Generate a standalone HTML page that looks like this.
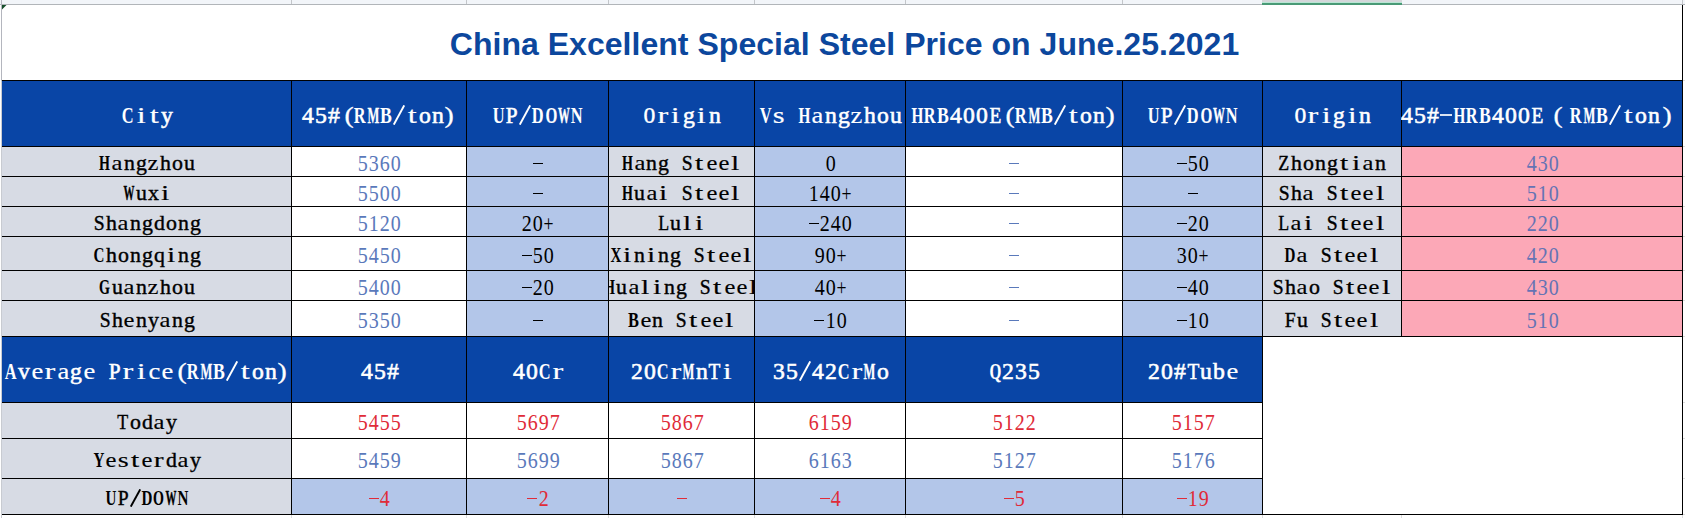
<!DOCTYPE html>
<html><head><meta charset="utf-8"><title>China Excellent Special Steel Price</title>
<style>
html,body{margin:0;padding:0;background:#fff;}
body{width:1685px;height:518px;position:relative;overflow:hidden;font-family:"Liberation Serif",serif;}
.r{position:absolute;}
.t{position:absolute;display:flex;justify-content:center;white-space:nowrap;overflow:hidden;}
.t span{display:block;flex:none;white-space:nowrap;}
.t i{display:inline-block;font-style:normal;text-align:center;}
.t b{display:inline-block;font-weight:normal;}
.t u{display:inline-block;background:currentColor;text-decoration:none;}
.t.h{font-size:24px;-webkit-text-stroke:0.6px currentColor;}
.t.l{font-size:22px;-webkit-text-stroke:0.4px currentColor;}
.t.n{font-size:23px;}
#title{position:absolute;left:4.5px;top:7px;width:1680px;height:75px;line-height:75px;text-align:center;font-family:"Liberation Sans",sans-serif;font-weight:bold;font-size:32px;letter-spacing:0.03px;color:#0c479d;white-space:nowrap;}
</style></head><body>
<div class="r" style="left:0;top:0;width:1685px;height:4px;background:#f2f5f9"></div>
<div class="r" style="left:0;top:4px;width:1685px;height:1px;background:#b1b5b9"></div>
<div class="r" style="left:291px;top:0;width:1px;height:4px;background:#c3c6ca"></div><div class="r" style="left:466px;top:0;width:1px;height:4px;background:#c3c6ca"></div><div class="r" style="left:608px;top:0;width:1px;height:4px;background:#c3c6ca"></div><div class="r" style="left:754px;top:0;width:1px;height:4px;background:#c3c6ca"></div><div class="r" style="left:905px;top:0;width:1px;height:4px;background:#c3c6ca"></div><div class="r" style="left:1122px;top:0;width:1px;height:4px;background:#c3c6ca"></div><div class="r" style="left:1262px;top:0;width:1px;height:4px;background:#c3c6ca"></div><div class="r" style="left:1401px;top:0;width:1px;height:4px;background:#c3c6ca"></div><div class="r" style="left:1682px;top:0;width:1px;height:4px;background:#c3c6ca"></div>
<div class="r" style="left:1262px;top:0;width:140px;height:3px;background:#d4d7da"></div>
<div class="r" style="left:1262px;top:2px;width:140px;height:1px;background:#b9e6d4"></div>
<div class="r" style="left:1262px;top:3px;width:140px;height:2px;background:#4a9a76"></div>
<div class="r" style="left:1px;top:0;width:1px;height:81px;background:#b4b6be"></div>
<div class="r" style="left:1px;top:81px;width:1px;height:437px;background:#c8cbd1"></div>
<div class="r" style="left:291px;top:515px;width:1px;height:3px;background:#dcdcdc"></div><div class="r" style="left:466px;top:515px;width:1px;height:3px;background:#dcdcdc"></div><div class="r" style="left:608px;top:515px;width:1px;height:3px;background:#dcdcdc"></div><div class="r" style="left:754px;top:515px;width:1px;height:3px;background:#dcdcdc"></div><div class="r" style="left:905px;top:515px;width:1px;height:3px;background:#dcdcdc"></div><div class="r" style="left:1122px;top:515px;width:1px;height:3px;background:#dcdcdc"></div><div class="r" style="left:1262px;top:515px;width:1px;height:3px;background:#dcdcdc"></div><div class="r" style="left:1401px;top:515px;width:1px;height:3px;background:#dcdcdc"></div><div class="r" style="left:1682px;top:515px;width:1px;height:3px;background:#dcdcdc"></div><div class="r" style="left:1683px;top:80px;width:2px;height:1px;background:#dcdcdc"></div><div class="r" style="left:1683px;top:146px;width:2px;height:1px;background:#dcdcdc"></div><div class="r" style="left:1683px;top:176px;width:2px;height:1px;background:#dcdcdc"></div><div class="r" style="left:1683px;top:206px;width:2px;height:1px;background:#dcdcdc"></div><div class="r" style="left:1683px;top:236px;width:2px;height:1px;background:#dcdcdc"></div><div class="r" style="left:1683px;top:270px;width:2px;height:1px;background:#dcdcdc"></div><div class="r" style="left:1683px;top:300px;width:2px;height:1px;background:#dcdcdc"></div><div class="r" style="left:1683px;top:336px;width:2px;height:1px;background:#dcdcdc"></div><div class="r" style="left:1683px;top:402px;width:2px;height:1px;background:#dcdcdc"></div><div class="r" style="left:1683px;top:438px;width:2px;height:1px;background:#dcdcdc"></div><div class="r" style="left:1683px;top:478px;width:2px;height:1px;background:#dcdcdc"></div><div class="r" style="left:1683px;top:514px;width:2px;height:1px;background:#dcdcdc"></div>
<svg class="r" style="left:2px;top:5px" width="5" height="5"><path d="M0 0H4.5L0 4.5Z" fill="#174f2b"/></svg>
<div id="title">China Excellent Special Steel Price on June.25.2021</div>
<div class="r" style="left:2px;top:81px;width:1680px;height:65px;background:#0945a6"></div>
<div class="r" style="left:2px;top:147px;width:289px;height:29px;background:#d7dbe4"></div>
<div class="r" style="left:292px;top:147px;width:174px;height:29px;background:#ffffff"></div>
<div class="r" style="left:467px;top:147px;width:141px;height:29px;background:#b3c6e9"></div>
<div class="r" style="left:609px;top:147px;width:145px;height:29px;background:#d7dbe4"></div>
<div class="r" style="left:755px;top:147px;width:150px;height:29px;background:#b3c6e9"></div>
<div class="r" style="left:906px;top:147px;width:216px;height:29px;background:#ffffff"></div>
<div class="r" style="left:1123px;top:147px;width:139px;height:29px;background:#b3c6e9"></div>
<div class="r" style="left:1263px;top:147px;width:138px;height:29px;background:#d7dbe4"></div>
<div class="r" style="left:1402px;top:147px;width:280px;height:29px;background:#fca8b7"></div>
<div class="r" style="left:2px;top:177px;width:289px;height:29px;background:#d7dbe4"></div>
<div class="r" style="left:292px;top:177px;width:174px;height:29px;background:#ffffff"></div>
<div class="r" style="left:467px;top:177px;width:141px;height:29px;background:#b3c6e9"></div>
<div class="r" style="left:609px;top:177px;width:145px;height:29px;background:#d7dbe4"></div>
<div class="r" style="left:755px;top:177px;width:150px;height:29px;background:#b3c6e9"></div>
<div class="r" style="left:906px;top:177px;width:216px;height:29px;background:#ffffff"></div>
<div class="r" style="left:1123px;top:177px;width:139px;height:29px;background:#b3c6e9"></div>
<div class="r" style="left:1263px;top:177px;width:138px;height:29px;background:#d7dbe4"></div>
<div class="r" style="left:1402px;top:177px;width:280px;height:29px;background:#fca8b7"></div>
<div class="r" style="left:2px;top:207px;width:289px;height:29px;background:#d7dbe4"></div>
<div class="r" style="left:292px;top:207px;width:174px;height:29px;background:#ffffff"></div>
<div class="r" style="left:467px;top:207px;width:141px;height:29px;background:#b3c6e9"></div>
<div class="r" style="left:609px;top:207px;width:145px;height:29px;background:#d7dbe4"></div>
<div class="r" style="left:755px;top:207px;width:150px;height:29px;background:#b3c6e9"></div>
<div class="r" style="left:906px;top:207px;width:216px;height:29px;background:#ffffff"></div>
<div class="r" style="left:1123px;top:207px;width:139px;height:29px;background:#b3c6e9"></div>
<div class="r" style="left:1263px;top:207px;width:138px;height:29px;background:#d7dbe4"></div>
<div class="r" style="left:1402px;top:207px;width:280px;height:29px;background:#fca8b7"></div>
<div class="r" style="left:2px;top:237px;width:289px;height:33px;background:#d7dbe4"></div>
<div class="r" style="left:292px;top:237px;width:174px;height:33px;background:#ffffff"></div>
<div class="r" style="left:467px;top:237px;width:141px;height:33px;background:#b3c6e9"></div>
<div class="r" style="left:609px;top:237px;width:145px;height:33px;background:#d7dbe4"></div>
<div class="r" style="left:755px;top:237px;width:150px;height:33px;background:#b3c6e9"></div>
<div class="r" style="left:906px;top:237px;width:216px;height:33px;background:#ffffff"></div>
<div class="r" style="left:1123px;top:237px;width:139px;height:33px;background:#b3c6e9"></div>
<div class="r" style="left:1263px;top:237px;width:138px;height:33px;background:#d7dbe4"></div>
<div class="r" style="left:1402px;top:237px;width:280px;height:33px;background:#fca8b7"></div>
<div class="r" style="left:2px;top:271px;width:289px;height:29px;background:#d7dbe4"></div>
<div class="r" style="left:292px;top:271px;width:174px;height:29px;background:#ffffff"></div>
<div class="r" style="left:467px;top:271px;width:141px;height:29px;background:#b3c6e9"></div>
<div class="r" style="left:609px;top:271px;width:145px;height:29px;background:#d7dbe4"></div>
<div class="r" style="left:755px;top:271px;width:150px;height:29px;background:#b3c6e9"></div>
<div class="r" style="left:906px;top:271px;width:216px;height:29px;background:#ffffff"></div>
<div class="r" style="left:1123px;top:271px;width:139px;height:29px;background:#b3c6e9"></div>
<div class="r" style="left:1263px;top:271px;width:138px;height:29px;background:#d7dbe4"></div>
<div class="r" style="left:1402px;top:271px;width:280px;height:29px;background:#fca8b7"></div>
<div class="r" style="left:2px;top:301px;width:289px;height:35px;background:#d7dbe4"></div>
<div class="r" style="left:292px;top:301px;width:174px;height:35px;background:#ffffff"></div>
<div class="r" style="left:467px;top:301px;width:141px;height:35px;background:#b3c6e9"></div>
<div class="r" style="left:609px;top:301px;width:145px;height:35px;background:#d7dbe4"></div>
<div class="r" style="left:755px;top:301px;width:150px;height:35px;background:#b3c6e9"></div>
<div class="r" style="left:906px;top:301px;width:216px;height:35px;background:#ffffff"></div>
<div class="r" style="left:1123px;top:301px;width:139px;height:35px;background:#b3c6e9"></div>
<div class="r" style="left:1263px;top:301px;width:138px;height:35px;background:#d7dbe4"></div>
<div class="r" style="left:1402px;top:301px;width:280px;height:35px;background:#fca8b7"></div>
<div class="r" style="left:2px;top:337px;width:1260px;height:65px;background:#0945a6"></div>
<div class="r" style="left:2px;top:403px;width:289px;height:35px;background:#d7dbe4"></div>
<div class="r" style="left:2px;top:439px;width:289px;height:39px;background:#d7dbe4"></div>
<div class="r" style="left:2px;top:479px;width:289px;height:35px;background:#d7dbe4"></div>
<div class="r" style="left:292px;top:479px;width:970px;height:35px;background:#b3c6e9"></div>
<div class="r" style="left:2px;top:80px;width:1681px;height:1px;background:#000000"></div>
<div class="r" style="left:2px;top:146px;width:1681px;height:1px;background:#000000"></div>
<div class="r" style="left:2px;top:176px;width:1681px;height:1px;background:#000000"></div>
<div class="r" style="left:2px;top:206px;width:1681px;height:1px;background:#000000"></div>
<div class="r" style="left:2px;top:236px;width:1681px;height:1px;background:#000000"></div>
<div class="r" style="left:2px;top:270px;width:1681px;height:1px;background:#000000"></div>
<div class="r" style="left:2px;top:300px;width:1681px;height:1px;background:#000000"></div>
<div class="r" style="left:2px;top:336px;width:1681px;height:1px;background:#000000"></div>
<div class="r" style="left:2px;top:402px;width:1261px;height:1px;background:#000000"></div>
<div class="r" style="left:2px;top:438px;width:1261px;height:1px;background:#000000"></div>
<div class="r" style="left:2px;top:478px;width:1261px;height:1px;background:#000000"></div>
<div class="r" style="left:2px;top:514px;width:1681px;height:1px;background:#000000"></div>
<div class="r" style="left:291px;top:80px;width:1px;height:435px;background:#000000"></div>
<div class="r" style="left:466px;top:80px;width:1px;height:435px;background:#000000"></div>
<div class="r" style="left:608px;top:80px;width:1px;height:435px;background:#000000"></div>
<div class="r" style="left:754px;top:80px;width:1px;height:435px;background:#000000"></div>
<div class="r" style="left:905px;top:80px;width:1px;height:435px;background:#000000"></div>
<div class="r" style="left:1122px;top:80px;width:1px;height:435px;background:#000000"></div>
<div class="r" style="left:1262px;top:80px;width:1px;height:435px;background:#000000"></div>
<div class="r" style="left:1401px;top:80px;width:1px;height:257px;background:#000000"></div>
<div class="r" style="left:1682px;top:5px;width:1px;height:510px;background:#000000"></div>
<div class="t h" style="left:3px;top:82.4px;width:289px;height:66px;line-height:66px;color:#fff;"><span><i style="width:13px"><b style="font-weight:bold;-webkit-text-stroke:0.03px currentColor;margin:0 -2.17px 0 -2.17px;transform:scaleX(0.683)">C</b></i><i style="width:13px"><b style="-webkit-text-stroke:0.15px currentColor;margin:0 3.17px 0 3.17px;transform:scaleX(1.350)">i</b></i><i style="width:13px"><b style="-webkit-text-stroke:0.15px currentColor;margin:0 3.17px 0 3.17px;transform:scaleX(1.350)">t</b></i><i style="width:13px"><b style="margin:0 0.50px 0 0.50px;transform:scaleX(0.986)">y</b></i></span></div>
<div class="t h" style="left:292px;top:82.4px;width:175px;height:66px;line-height:66px;color:#fff;"><span><i style="width:13px"><b style="margin:0 0.50px 0 0.50px;transform:scaleX(0.986)">4</b></i><i style="width:13px"><b style="margin:0 0.50px 0 0.50px;transform:scaleX(0.986)">5</b></i><i style="width:13px"><b style="margin:0 0.50px 0 0.50px;transform:scaleX(0.986)">#</b></i><i style="width:13px"><b style="-webkit-text-stroke:0.3px currentColor;margin:0 0.60px 0 4.41px;transform:scaleX(1.150)">(</b></i><i style="width:13px"><b style="font-weight:bold;-webkit-text-stroke:0.03px currentColor;margin:0 -2.17px 0 -2.17px;transform:scaleX(0.683)">R</b></i><i style="width:13px"><b style="font-weight:bold;-webkit-text-stroke:0.36px currentColor;margin:0 -4.83px 0 -4.83px;transform:scaleX(0.522)">M</b></i><i style="width:13px"><b style="font-weight:bold;-webkit-text-stroke:0.00px currentColor;margin:0 -1.50px 0 -1.50px;transform:scaleX(0.739)">B</b></i><i style="width:13px"><svg width="12" height="20" viewBox="0 0 12 20" style="vertical-align:-1.9px"><path d="M0.8 19.6L11.2 0.4" stroke="currentColor" stroke-width="1.9" fill="none"/></svg></i><i style="width:13px"><b style="-webkit-text-stroke:0.15px currentColor;margin:0 3.17px 0 3.17px;transform:scaleX(1.350)">t</b></i><i style="width:13px"><b style="margin:0 0.50px 0 0.50px;transform:scaleX(0.986)">o</b></i><i style="width:13px"><b style="margin:0 0.50px 0 0.50px;transform:scaleX(0.986)">n</b></i><i style="width:13px"><b style="-webkit-text-stroke:0.3px currentColor;margin:0 4.41px 0 0.60px;transform:scaleX(1.150)">)</b></i></span></div>
<div class="t h" style="left:467px;top:82.4px;width:142px;height:66px;line-height:66px;color:#fff;"><span><i style="width:13px"><b style="font-weight:bold;-webkit-text-stroke:0.03px currentColor;margin:0 -2.17px 0 -2.17px;transform:scaleX(0.683)">U</b></i><i style="width:13px"><b style="margin:0 -0.17px 0 -0.17px;transform:scaleX(0.886)">P</b></i><i style="width:13px"><svg width="12" height="20" viewBox="0 0 12 20" style="vertical-align:-1.9px"><path d="M0.8 19.6L11.2 0.4" stroke="currentColor" stroke-width="1.9" fill="none"/></svg></i><i style="width:13px"><b style="font-weight:bold;-webkit-text-stroke:0.03px currentColor;margin:0 -2.17px 0 -2.17px;transform:scaleX(0.683)">D</b></i><i style="width:13px"><b style="font-weight:bold;-webkit-text-stroke:0.13px currentColor;margin:0 -2.83px 0 -2.83px;transform:scaleX(0.634)">O</b></i><i style="width:13px"><b style="font-weight:bold;-webkit-text-stroke:0.41px currentColor;margin:0 -5.50px 0 -5.50px;transform:scaleX(0.493)">W</b></i><i style="width:13px"><b style="font-weight:bold;-webkit-text-stroke:0.03px currentColor;margin:0 -2.17px 0 -2.17px;transform:scaleX(0.683)">N</b></i></span></div>
<div class="t h" style="left:609px;top:82.4px;width:146px;height:66px;line-height:66px;color:#fff;"><span><i style="width:13px"><b style="font-weight:bold;-webkit-text-stroke:0.13px currentColor;margin:0 -2.83px 0 -2.83px;transform:scaleX(0.634)">O</b></i><i style="width:13px"><b style="-webkit-text-stroke:0.15px currentColor;margin:0 2.50px 0 2.50px;transform:scaleX(1.350)">r</b></i><i style="width:13px"><b style="-webkit-text-stroke:0.15px currentColor;margin:0 3.17px 0 3.17px;transform:scaleX(1.350)">i</b></i><i style="width:13px"><b style="margin:0 0.50px 0 0.50px;transform:scaleX(0.986)">g</b></i><i style="width:13px"><b style="-webkit-text-stroke:0.15px currentColor;margin:0 3.17px 0 3.17px;transform:scaleX(1.350)">i</b></i><i style="width:13px"><b style="margin:0 0.50px 0 0.50px;transform:scaleX(0.986)">n</b></i></span></div>
<div class="t h" style="left:755px;top:82.4px;width:151px;height:66px;line-height:66px;color:#fff;"><span><i style="width:13px"><b style="font-weight:bold;-webkit-text-stroke:0.03px currentColor;margin:0 -2.17px 0 -2.17px;transform:scaleX(0.683)">V</b></i><i style="width:13px"><b style="-webkit-text-stroke:0.15px currentColor;margin:0 1.83px 0 1.83px;transform:scaleX(1.267)">s</b></i><i style="width:13px"></i><i style="width:13px"><b style="font-weight:bold;-webkit-text-stroke:0.13px currentColor;margin:0 -2.83px 0 -2.83px;transform:scaleX(0.634)">H</b></i><i style="width:13px"><b style="-webkit-text-stroke:0.15px currentColor;margin:0 1.17px 0 1.17px;transform:scaleX(1.111)">a</b></i><i style="width:13px"><b style="margin:0 0.50px 0 0.50px;transform:scaleX(0.986)">n</b></i><i style="width:13px"><b style="margin:0 0.50px 0 0.50px;transform:scaleX(0.986)">g</b></i><i style="width:13px"><b style="-webkit-text-stroke:0.15px currentColor;margin:0 1.17px 0 1.17px;transform:scaleX(1.111)">z</b></i><i style="width:13px"><b style="margin:0 0.50px 0 0.50px;transform:scaleX(0.986)">h</b></i><i style="width:13px"><b style="margin:0 0.50px 0 0.50px;transform:scaleX(0.986)">o</b></i><i style="width:13px"><b style="margin:0 0.50px 0 0.50px;transform:scaleX(0.986)">u</b></i></span></div>
<div class="t h" style="left:906px;top:82.4px;width:217px;height:66px;line-height:66px;color:#fff;"><span><i style="width:13px"><b style="font-weight:bold;-webkit-text-stroke:0.13px currentColor;margin:0 -2.83px 0 -2.83px;transform:scaleX(0.634)">H</b></i><i style="width:13px"><b style="font-weight:bold;-webkit-text-stroke:0.03px currentColor;margin:0 -2.17px 0 -2.17px;transform:scaleX(0.683)">R</b></i><i style="width:13px"><b style="font-weight:bold;-webkit-text-stroke:0.00px currentColor;margin:0 -1.50px 0 -1.50px;transform:scaleX(0.739)">B</b></i><i style="width:13px"><b style="margin:0 0.50px 0 0.50px;transform:scaleX(0.986)">4</b></i><i style="width:13px"><b style="margin:0 0.50px 0 0.50px;transform:scaleX(0.986)">0</b></i><i style="width:13px"><b style="margin:0 0.50px 0 0.50px;transform:scaleX(0.986)">0</b></i><i style="width:13px"><b style="margin:0 -0.83px 0 -0.83px;transform:scaleX(0.807)">E</b></i><i style="width:13px"><b style="-webkit-text-stroke:0.3px currentColor;margin:0 0.60px 0 4.41px;transform:scaleX(1.150)">(</b></i><i style="width:13px"><b style="font-weight:bold;-webkit-text-stroke:0.03px currentColor;margin:0 -2.17px 0 -2.17px;transform:scaleX(0.683)">R</b></i><i style="width:13px"><b style="font-weight:bold;-webkit-text-stroke:0.36px currentColor;margin:0 -4.83px 0 -4.83px;transform:scaleX(0.522)">M</b></i><i style="width:13px"><b style="font-weight:bold;-webkit-text-stroke:0.00px currentColor;margin:0 -1.50px 0 -1.50px;transform:scaleX(0.739)">B</b></i><i style="width:13px"><svg width="12" height="20" viewBox="0 0 12 20" style="vertical-align:-1.9px"><path d="M0.8 19.6L11.2 0.4" stroke="currentColor" stroke-width="1.9" fill="none"/></svg></i><i style="width:13px"><b style="-webkit-text-stroke:0.15px currentColor;margin:0 3.17px 0 3.17px;transform:scaleX(1.350)">t</b></i><i style="width:13px"><b style="margin:0 0.50px 0 0.50px;transform:scaleX(0.986)">o</b></i><i style="width:13px"><b style="margin:0 0.50px 0 0.50px;transform:scaleX(0.986)">n</b></i><i style="width:13px"><b style="-webkit-text-stroke:0.3px currentColor;margin:0 4.41px 0 0.60px;transform:scaleX(1.150)">)</b></i></span></div>
<div class="t h" style="left:1123px;top:82.4px;width:140px;height:66px;line-height:66px;color:#fff;"><span><i style="width:13px"><b style="font-weight:bold;-webkit-text-stroke:0.03px currentColor;margin:0 -2.17px 0 -2.17px;transform:scaleX(0.683)">U</b></i><i style="width:13px"><b style="margin:0 -0.17px 0 -0.17px;transform:scaleX(0.886)">P</b></i><i style="width:13px"><svg width="12" height="20" viewBox="0 0 12 20" style="vertical-align:-1.9px"><path d="M0.8 19.6L11.2 0.4" stroke="currentColor" stroke-width="1.9" fill="none"/></svg></i><i style="width:13px"><b style="font-weight:bold;-webkit-text-stroke:0.03px currentColor;margin:0 -2.17px 0 -2.17px;transform:scaleX(0.683)">D</b></i><i style="width:13px"><b style="font-weight:bold;-webkit-text-stroke:0.13px currentColor;margin:0 -2.83px 0 -2.83px;transform:scaleX(0.634)">O</b></i><i style="width:13px"><b style="font-weight:bold;-webkit-text-stroke:0.41px currentColor;margin:0 -5.50px 0 -5.50px;transform:scaleX(0.493)">W</b></i><i style="width:13px"><b style="font-weight:bold;-webkit-text-stroke:0.03px currentColor;margin:0 -2.17px 0 -2.17px;transform:scaleX(0.683)">N</b></i></span></div>
<div class="t h" style="left:1263px;top:82.4px;width:139px;height:66px;line-height:66px;color:#fff;"><span><i style="width:13px"><b style="font-weight:bold;-webkit-text-stroke:0.13px currentColor;margin:0 -2.83px 0 -2.83px;transform:scaleX(0.634)">O</b></i><i style="width:13px"><b style="-webkit-text-stroke:0.15px currentColor;margin:0 2.50px 0 2.50px;transform:scaleX(1.350)">r</b></i><i style="width:13px"><b style="-webkit-text-stroke:0.15px currentColor;margin:0 3.17px 0 3.17px;transform:scaleX(1.350)">i</b></i><i style="width:13px"><b style="margin:0 0.50px 0 0.50px;transform:scaleX(0.986)">g</b></i><i style="width:13px"><b style="-webkit-text-stroke:0.15px currentColor;margin:0 3.17px 0 3.17px;transform:scaleX(1.350)">i</b></i><i style="width:13px"><b style="margin:0 0.50px 0 0.50px;transform:scaleX(0.986)">n</b></i></span></div>
<div class="t h" style="left:1400.5px;top:82.4px;width:290.5px;height:66px;line-height:66px;color:#fff;justify-content:flex-start;"><span><i style="width:13px"><b style="margin:0 0.50px 0 0.50px;transform:scaleX(0.986)">4</b></i><i style="width:13px"><b style="margin:0 0.50px 0 0.50px;transform:scaleX(0.986)">5</b></i><i style="width:13px"><b style="margin:0 0.50px 0 0.50px;transform:scaleX(0.986)">#</b></i><i style="width:13px"><u style="width:12px;height:2px;vertical-align:7.0px;opacity:.85"></u></i><i style="width:13px"><b style="font-weight:bold;-webkit-text-stroke:0.13px currentColor;margin:0 -2.83px 0 -2.83px;transform:scaleX(0.634)">H</b></i><i style="width:13px"><b style="font-weight:bold;-webkit-text-stroke:0.03px currentColor;margin:0 -2.17px 0 -2.17px;transform:scaleX(0.683)">R</b></i><i style="width:13px"><b style="font-weight:bold;-webkit-text-stroke:0.00px currentColor;margin:0 -1.50px 0 -1.50px;transform:scaleX(0.739)">B</b></i><i style="width:13px"><b style="margin:0 0.50px 0 0.50px;transform:scaleX(0.986)">4</b></i><i style="width:13px"><b style="margin:0 0.50px 0 0.50px;transform:scaleX(0.986)">0</b></i><i style="width:13px"><b style="margin:0 0.50px 0 0.50px;transform:scaleX(0.986)">0</b></i><i style="width:13px"><b style="margin:0 -0.83px 0 -0.83px;transform:scaleX(0.807)">E</b></i><i style="width:26px"><b style="-webkit-text-stroke:0.3px currentColor;margin:0 7.65px 0 10.35px;transform:scaleX(1.150)">(</b></i><i style="width:13px"><b style="font-weight:bold;-webkit-text-stroke:0.03px currentColor;margin:0 -2.17px 0 -2.17px;transform:scaleX(0.683)">R</b></i><i style="width:13px"><b style="font-weight:bold;-webkit-text-stroke:0.36px currentColor;margin:0 -4.83px 0 -4.83px;transform:scaleX(0.522)">M</b></i><i style="width:13px"><b style="font-weight:bold;-webkit-text-stroke:0.00px currentColor;margin:0 -1.50px 0 -1.50px;transform:scaleX(0.739)">B</b></i><i style="width:13px"><svg width="12" height="20" viewBox="0 0 12 20" style="vertical-align:-1.9px"><path d="M0.8 19.6L11.2 0.4" stroke="currentColor" stroke-width="1.9" fill="none"/></svg></i><i style="width:13px"><b style="-webkit-text-stroke:0.15px currentColor;margin:0 3.17px 0 3.17px;transform:scaleX(1.350)">t</b></i><i style="width:13px"><b style="margin:0 0.50px 0 0.50px;transform:scaleX(0.986)">o</b></i><i style="width:13px"><b style="margin:0 0.50px 0 0.50px;transform:scaleX(0.986)">n</b></i><i style="width:26px"><b style="-webkit-text-stroke:0.3px currentColor;margin:0 15.35px 0 2.65px;transform:scaleX(1.150)">)</b></i></span></div>
<div class="t l" style="left:2.5px;top:148.0px;width:289px;height:30px;line-height:30px;color:#000;"><span><i style="width:12px"><b style="font-weight:bold;-webkit-text-stroke:0.12px currentColor;margin:0 -2.56px 0 -2.56px;transform:scaleX(0.638)">H</b></i><i style="width:12px"><b style="-webkit-text-stroke:0.15px currentColor;margin:0 1.12px 0 1.12px;transform:scaleX(1.118)">a</b></i><i style="width:12px"><b style="margin:0 0.50px 0 0.50px;transform:scaleX(0.993)">n</b></i><i style="width:12px"><b style="margin:0 0.50px 0 0.50px;transform:scaleX(0.993)">g</b></i><i style="width:12px"><b style="-webkit-text-stroke:0.15px currentColor;margin:0 1.12px 0 1.12px;transform:scaleX(1.118)">z</b></i><i style="width:12px"><b style="margin:0 0.50px 0 0.50px;transform:scaleX(0.993)">h</b></i><i style="width:12px"><b style="margin:0 0.50px 0 0.50px;transform:scaleX(0.993)">o</b></i><i style="width:12px"><b style="margin:0 0.50px 0 0.50px;transform:scaleX(0.993)">u</b></i></span></div>
<div class="t n" style="left:291.9px;top:148.9px;width:175px;height:30px;line-height:30px;color:#5a79bb;"><span><i style="width:11px"><b style="margin:0 -0.25px 0 -0.25px;transform:scaleX(0.870)">5</b></i><i style="width:11px"><b style="margin:0 -0.25px 0 -0.25px;transform:scaleX(0.870)">3</b></i><i style="width:11px"><b style="margin:0 -0.25px 0 -0.25px;transform:scaleX(0.870)">6</b></i><i style="width:11px"><b style="margin:0 -0.25px 0 -0.25px;transform:scaleX(0.870)">0</b></i></span></div>
<div class="t n" style="left:466.9px;top:148.9px;width:142px;height:30px;line-height:30px;color:#000;"><span><i style="width:11px"><u style="width:10px;height:1px;vertical-align:6.7px"></u></i></span></div>
<div class="t l" style="left:608.5px;top:148.0px;width:146px;height:30px;line-height:30px;color:#000;"><span><i style="width:12px"><b style="font-weight:bold;-webkit-text-stroke:0.12px currentColor;margin:0 -2.56px 0 -2.56px;transform:scaleX(0.638)">H</b></i><i style="width:12px"><b style="-webkit-text-stroke:0.15px currentColor;margin:0 1.12px 0 1.12px;transform:scaleX(1.118)">a</b></i><i style="width:12px"><b style="margin:0 0.50px 0 0.50px;transform:scaleX(0.993)">n</b></i><i style="width:12px"><b style="margin:0 0.50px 0 0.50px;transform:scaleX(0.993)">g</b></i><i style="width:12px"></i><i style="width:12px"><b style="margin:0 -0.12px 0 -0.12px;transform:scaleX(0.892)">S</b></i><i style="width:12px"><b style="-webkit-text-stroke:0.15px currentColor;margin:0 2.94px 0 2.94px;transform:scaleX(1.350)">t</b></i><i style="width:12px"><b style="-webkit-text-stroke:0.15px currentColor;margin:0 1.12px 0 1.12px;transform:scaleX(1.118)">e</b></i><i style="width:12px"><b style="-webkit-text-stroke:0.15px currentColor;margin:0 1.12px 0 1.12px;transform:scaleX(1.118)">e</b></i><i style="width:12px"><b style="-webkit-text-stroke:0.15px currentColor;margin:0 2.94px 0 2.94px;transform:scaleX(1.350)">l</b></i></span></div>
<div class="t n" style="left:754.9px;top:148.9px;width:151px;height:30px;line-height:30px;color:#000;"><span><i style="width:11px"><b style="margin:0 -0.25px 0 -0.25px;transform:scaleX(0.870)">0</b></i></span></div>
<div class="t n" style="left:905.9px;top:148.9px;width:217px;height:30px;line-height:30px;color:#5a79bb;"><span><i style="width:11px"><u style="width:10px;height:1px;vertical-align:6.7px"></u></i></span></div>
<div class="t n" style="left:1122.9px;top:148.9px;width:140px;height:30px;line-height:30px;color:#000;"><span><i style="width:11px"><u style="width:10px;height:1px;vertical-align:6.7px"></u></i><i style="width:11px"><b style="margin:0 -0.25px 0 -0.25px;transform:scaleX(0.870)">5</b></i><i style="width:11px"><b style="margin:0 -0.25px 0 -0.25px;transform:scaleX(0.870)">0</b></i></span></div>
<div class="t l" style="left:1262.5px;top:148.0px;width:139px;height:30px;line-height:30px;color:#000;"><span><i style="width:12px"><b style="margin:0 -0.72px 0 -0.72px;transform:scaleX(0.813)">Z</b></i><i style="width:12px"><b style="margin:0 0.50px 0 0.50px;transform:scaleX(0.993)">h</b></i><i style="width:12px"><b style="margin:0 0.50px 0 0.50px;transform:scaleX(0.993)">o</b></i><i style="width:12px"><b style="margin:0 0.50px 0 0.50px;transform:scaleX(0.993)">n</b></i><i style="width:12px"><b style="margin:0 0.50px 0 0.50px;transform:scaleX(0.993)">g</b></i><i style="width:12px"><b style="-webkit-text-stroke:0.15px currentColor;margin:0 2.94px 0 2.94px;transform:scaleX(1.350)">t</b></i><i style="width:12px"><b style="-webkit-text-stroke:0.15px currentColor;margin:0 2.94px 0 2.94px;transform:scaleX(1.350)">i</b></i><i style="width:12px"><b style="-webkit-text-stroke:0.15px currentColor;margin:0 1.12px 0 1.12px;transform:scaleX(1.118)">a</b></i><i style="width:12px"><b style="margin:0 0.50px 0 0.50px;transform:scaleX(0.993)">n</b></i></span></div>
<div class="t n" style="left:1401.9px;top:148.9px;width:281px;height:30px;line-height:30px;color:#6473b4;"><span><i style="width:11px"><b style="margin:0 -0.25px 0 -0.25px;transform:scaleX(0.870)">4</b></i><i style="width:11px"><b style="margin:0 -0.25px 0 -0.25px;transform:scaleX(0.870)">3</b></i><i style="width:11px"><b style="margin:0 -0.25px 0 -0.25px;transform:scaleX(0.870)">0</b></i></span></div>
<div class="t l" style="left:2.5px;top:178.0px;width:289px;height:30px;line-height:30px;color:#000;"><span><i style="width:12px"><b style="font-weight:bold;-webkit-text-stroke:0.41px currentColor;margin:0 -5.00px 0 -5.00px;transform:scaleX(0.496)">W</b></i><i style="width:12px"><b style="margin:0 0.50px 0 0.50px;transform:scaleX(0.993)">u</b></i><i style="width:12px"><b style="margin:0 0.50px 0 0.50px;transform:scaleX(0.993)">x</b></i><i style="width:12px"><b style="-webkit-text-stroke:0.15px currentColor;margin:0 2.94px 0 2.94px;transform:scaleX(1.350)">i</b></i></span></div>
<div class="t n" style="left:291.9px;top:178.9px;width:175px;height:30px;line-height:30px;color:#5a79bb;"><span><i style="width:11px"><b style="margin:0 -0.25px 0 -0.25px;transform:scaleX(0.870)">5</b></i><i style="width:11px"><b style="margin:0 -0.25px 0 -0.25px;transform:scaleX(0.870)">5</b></i><i style="width:11px"><b style="margin:0 -0.25px 0 -0.25px;transform:scaleX(0.870)">0</b></i><i style="width:11px"><b style="margin:0 -0.25px 0 -0.25px;transform:scaleX(0.870)">0</b></i></span></div>
<div class="t n" style="left:466.9px;top:178.9px;width:142px;height:30px;line-height:30px;color:#000;"><span><i style="width:11px"><u style="width:10px;height:1px;vertical-align:6.7px"></u></i></span></div>
<div class="t l" style="left:608.5px;top:178.0px;width:146px;height:30px;line-height:30px;color:#000;"><span><i style="width:12px"><b style="font-weight:bold;-webkit-text-stroke:0.12px currentColor;margin:0 -2.56px 0 -2.56px;transform:scaleX(0.638)">H</b></i><i style="width:12px"><b style="margin:0 0.50px 0 0.50px;transform:scaleX(0.993)">u</b></i><i style="width:12px"><b style="-webkit-text-stroke:0.15px currentColor;margin:0 1.12px 0 1.12px;transform:scaleX(1.118)">a</b></i><i style="width:12px"><b style="-webkit-text-stroke:0.15px currentColor;margin:0 2.94px 0 2.94px;transform:scaleX(1.350)">i</b></i><i style="width:12px"></i><i style="width:12px"><b style="margin:0 -0.12px 0 -0.12px;transform:scaleX(0.892)">S</b></i><i style="width:12px"><b style="-webkit-text-stroke:0.15px currentColor;margin:0 2.94px 0 2.94px;transform:scaleX(1.350)">t</b></i><i style="width:12px"><b style="-webkit-text-stroke:0.15px currentColor;margin:0 1.12px 0 1.12px;transform:scaleX(1.118)">e</b></i><i style="width:12px"><b style="-webkit-text-stroke:0.15px currentColor;margin:0 1.12px 0 1.12px;transform:scaleX(1.118)">e</b></i><i style="width:12px"><b style="-webkit-text-stroke:0.15px currentColor;margin:0 2.94px 0 2.94px;transform:scaleX(1.350)">l</b></i></span></div>
<div class="t n" style="left:754.9px;top:178.9px;width:151px;height:30px;line-height:30px;color:#000;"><span><i style="width:11px"><b style="margin:0 -0.25px 0 -0.25px;transform:scaleX(0.870)">1</b></i><i style="width:11px"><b style="margin:0 -0.25px 0 -0.25px;transform:scaleX(0.870)">4</b></i><i style="width:11px"><b style="margin:0 -0.25px 0 -0.25px;transform:scaleX(0.870)">0</b></i><i style="width:11px"><b style="margin:0 -0.99px 0 -0.99px;transform:scaleX(0.772)">+</b></i></span></div>
<div class="t n" style="left:905.9px;top:178.9px;width:217px;height:30px;line-height:30px;color:#5a79bb;"><span><i style="width:11px"><u style="width:10px;height:1px;vertical-align:6.7px"></u></i></span></div>
<div class="t n" style="left:1122.9px;top:178.9px;width:140px;height:30px;line-height:30px;color:#000;"><span><i style="width:11px"><u style="width:10px;height:1px;vertical-align:6.7px"></u></i></span></div>
<div class="t l" style="left:1262.5px;top:178.0px;width:139px;height:30px;line-height:30px;color:#000;"><span><i style="width:12px"><b style="margin:0 -0.12px 0 -0.12px;transform:scaleX(0.892)">S</b></i><i style="width:12px"><b style="margin:0 0.50px 0 0.50px;transform:scaleX(0.993)">h</b></i><i style="width:12px"><b style="-webkit-text-stroke:0.15px currentColor;margin:0 1.12px 0 1.12px;transform:scaleX(1.118)">a</b></i><i style="width:12px"></i><i style="width:12px"><b style="margin:0 -0.12px 0 -0.12px;transform:scaleX(0.892)">S</b></i><i style="width:12px"><b style="-webkit-text-stroke:0.15px currentColor;margin:0 2.94px 0 2.94px;transform:scaleX(1.350)">t</b></i><i style="width:12px"><b style="-webkit-text-stroke:0.15px currentColor;margin:0 1.12px 0 1.12px;transform:scaleX(1.118)">e</b></i><i style="width:12px"><b style="-webkit-text-stroke:0.15px currentColor;margin:0 1.12px 0 1.12px;transform:scaleX(1.118)">e</b></i><i style="width:12px"><b style="-webkit-text-stroke:0.15px currentColor;margin:0 2.94px 0 2.94px;transform:scaleX(1.350)">l</b></i></span></div>
<div class="t n" style="left:1401.9px;top:178.9px;width:281px;height:30px;line-height:30px;color:#6473b4;"><span><i style="width:11px"><b style="margin:0 -0.25px 0 -0.25px;transform:scaleX(0.870)">5</b></i><i style="width:11px"><b style="margin:0 -0.25px 0 -0.25px;transform:scaleX(0.870)">1</b></i><i style="width:11px"><b style="margin:0 -0.25px 0 -0.25px;transform:scaleX(0.870)">0</b></i></span></div>
<div class="t l" style="left:2.5px;top:208.0px;width:289px;height:30px;line-height:30px;color:#000;"><span><i style="width:12px"><b style="margin:0 -0.12px 0 -0.12px;transform:scaleX(0.892)">S</b></i><i style="width:12px"><b style="margin:0 0.50px 0 0.50px;transform:scaleX(0.993)">h</b></i><i style="width:12px"><b style="-webkit-text-stroke:0.15px currentColor;margin:0 1.12px 0 1.12px;transform:scaleX(1.118)">a</b></i><i style="width:12px"><b style="margin:0 0.50px 0 0.50px;transform:scaleX(0.993)">n</b></i><i style="width:12px"><b style="margin:0 0.50px 0 0.50px;transform:scaleX(0.993)">g</b></i><i style="width:12px"><b style="margin:0 0.50px 0 0.50px;transform:scaleX(0.993)">d</b></i><i style="width:12px"><b style="margin:0 0.50px 0 0.50px;transform:scaleX(0.993)">o</b></i><i style="width:12px"><b style="margin:0 0.50px 0 0.50px;transform:scaleX(0.993)">n</b></i><i style="width:12px"><b style="margin:0 0.50px 0 0.50px;transform:scaleX(0.993)">g</b></i></span></div>
<div class="t n" style="left:291.9px;top:208.9px;width:175px;height:30px;line-height:30px;color:#5a79bb;"><span><i style="width:11px"><b style="margin:0 -0.25px 0 -0.25px;transform:scaleX(0.870)">5</b></i><i style="width:11px"><b style="margin:0 -0.25px 0 -0.25px;transform:scaleX(0.870)">1</b></i><i style="width:11px"><b style="margin:0 -0.25px 0 -0.25px;transform:scaleX(0.870)">2</b></i><i style="width:11px"><b style="margin:0 -0.25px 0 -0.25px;transform:scaleX(0.870)">0</b></i></span></div>
<div class="t n" style="left:466.9px;top:208.9px;width:142px;height:30px;line-height:30px;color:#000;"><span><i style="width:11px"><b style="margin:0 -0.25px 0 -0.25px;transform:scaleX(0.870)">2</b></i><i style="width:11px"><b style="margin:0 -0.25px 0 -0.25px;transform:scaleX(0.870)">0</b></i><i style="width:11px"><b style="margin:0 -0.99px 0 -0.99px;transform:scaleX(0.772)">+</b></i></span></div>
<div class="t l" style="left:608.5px;top:208.0px;width:146px;height:30px;line-height:30px;color:#000;"><span><i style="width:12px"><b style="margin:0 -0.72px 0 -0.72px;transform:scaleX(0.813)">L</b></i><i style="width:12px"><b style="margin:0 0.50px 0 0.50px;transform:scaleX(0.993)">u</b></i><i style="width:12px"><b style="-webkit-text-stroke:0.15px currentColor;margin:0 2.94px 0 2.94px;transform:scaleX(1.350)">l</b></i><i style="width:12px"><b style="-webkit-text-stroke:0.15px currentColor;margin:0 2.94px 0 2.94px;transform:scaleX(1.350)">i</b></i></span></div>
<div class="t n" style="left:754.9px;top:208.9px;width:151px;height:30px;line-height:30px;color:#000;"><span><i style="width:11px"><u style="width:10px;height:1px;vertical-align:6.7px"></u></i><i style="width:11px"><b style="margin:0 -0.25px 0 -0.25px;transform:scaleX(0.870)">2</b></i><i style="width:11px"><b style="margin:0 -0.25px 0 -0.25px;transform:scaleX(0.870)">4</b></i><i style="width:11px"><b style="margin:0 -0.25px 0 -0.25px;transform:scaleX(0.870)">0</b></i></span></div>
<div class="t n" style="left:905.9px;top:208.9px;width:217px;height:30px;line-height:30px;color:#5a79bb;"><span><i style="width:11px"><u style="width:10px;height:1px;vertical-align:6.7px"></u></i></span></div>
<div class="t n" style="left:1122.9px;top:208.9px;width:140px;height:30px;line-height:30px;color:#000;"><span><i style="width:11px"><u style="width:10px;height:1px;vertical-align:6.7px"></u></i><i style="width:11px"><b style="margin:0 -0.25px 0 -0.25px;transform:scaleX(0.870)">2</b></i><i style="width:11px"><b style="margin:0 -0.25px 0 -0.25px;transform:scaleX(0.870)">0</b></i></span></div>
<div class="t l" style="left:1262.5px;top:208.0px;width:139px;height:30px;line-height:30px;color:#000;"><span><i style="width:12px"><b style="margin:0 -0.72px 0 -0.72px;transform:scaleX(0.813)">L</b></i><i style="width:12px"><b style="-webkit-text-stroke:0.15px currentColor;margin:0 1.12px 0 1.12px;transform:scaleX(1.118)">a</b></i><i style="width:12px"><b style="-webkit-text-stroke:0.15px currentColor;margin:0 2.94px 0 2.94px;transform:scaleX(1.350)">i</b></i><i style="width:12px"></i><i style="width:12px"><b style="margin:0 -0.12px 0 -0.12px;transform:scaleX(0.892)">S</b></i><i style="width:12px"><b style="-webkit-text-stroke:0.15px currentColor;margin:0 2.94px 0 2.94px;transform:scaleX(1.350)">t</b></i><i style="width:12px"><b style="-webkit-text-stroke:0.15px currentColor;margin:0 1.12px 0 1.12px;transform:scaleX(1.118)">e</b></i><i style="width:12px"><b style="-webkit-text-stroke:0.15px currentColor;margin:0 1.12px 0 1.12px;transform:scaleX(1.118)">e</b></i><i style="width:12px"><b style="-webkit-text-stroke:0.15px currentColor;margin:0 2.94px 0 2.94px;transform:scaleX(1.350)">l</b></i></span></div>
<div class="t n" style="left:1401.9px;top:208.9px;width:281px;height:30px;line-height:30px;color:#6473b4;"><span><i style="width:11px"><b style="margin:0 -0.25px 0 -0.25px;transform:scaleX(0.870)">2</b></i><i style="width:11px"><b style="margin:0 -0.25px 0 -0.25px;transform:scaleX(0.870)">2</b></i><i style="width:11px"><b style="margin:0 -0.25px 0 -0.25px;transform:scaleX(0.870)">0</b></i></span></div>
<div class="t l" style="left:2.5px;top:238.0px;width:289px;height:34px;line-height:34px;color:#000;"><span><i style="width:12px"><b style="font-weight:bold;-webkit-text-stroke:0.03px currentColor;margin:0 -1.94px 0 -1.94px;transform:scaleX(0.687)">C</b></i><i style="width:12px"><b style="margin:0 0.50px 0 0.50px;transform:scaleX(0.993)">h</b></i><i style="width:12px"><b style="margin:0 0.50px 0 0.50px;transform:scaleX(0.993)">o</b></i><i style="width:12px"><b style="margin:0 0.50px 0 0.50px;transform:scaleX(0.993)">n</b></i><i style="width:12px"><b style="margin:0 0.50px 0 0.50px;transform:scaleX(0.993)">g</b></i><i style="width:12px"><b style="margin:0 0.50px 0 0.50px;transform:scaleX(0.993)">q</b></i><i style="width:12px"><b style="-webkit-text-stroke:0.15px currentColor;margin:0 2.94px 0 2.94px;transform:scaleX(1.350)">i</b></i><i style="width:12px"><b style="margin:0 0.50px 0 0.50px;transform:scaleX(0.993)">n</b></i><i style="width:12px"><b style="margin:0 0.50px 0 0.50px;transform:scaleX(0.993)">g</b></i></span></div>
<div class="t n" style="left:291.9px;top:238.9px;width:175px;height:34px;line-height:34px;color:#5a79bb;"><span><i style="width:11px"><b style="margin:0 -0.25px 0 -0.25px;transform:scaleX(0.870)">5</b></i><i style="width:11px"><b style="margin:0 -0.25px 0 -0.25px;transform:scaleX(0.870)">4</b></i><i style="width:11px"><b style="margin:0 -0.25px 0 -0.25px;transform:scaleX(0.870)">5</b></i><i style="width:11px"><b style="margin:0 -0.25px 0 -0.25px;transform:scaleX(0.870)">0</b></i></span></div>
<div class="t n" style="left:466.9px;top:238.9px;width:142px;height:34px;line-height:34px;color:#000;"><span><i style="width:11px"><u style="width:10px;height:1px;vertical-align:6.7px"></u></i><i style="width:11px"><b style="margin:0 -0.25px 0 -0.25px;transform:scaleX(0.870)">5</b></i><i style="width:11px"><b style="margin:0 -0.25px 0 -0.25px;transform:scaleX(0.870)">0</b></i></span></div>
<div class="t l" style="left:608.5px;top:238.0px;width:146px;height:34px;line-height:34px;color:#000;"><span><i style="width:12px"><b style="font-weight:bold;-webkit-text-stroke:0.03px currentColor;margin:0 -1.94px 0 -1.94px;transform:scaleX(0.687)">X</b></i><i style="width:12px"><b style="-webkit-text-stroke:0.15px currentColor;margin:0 2.94px 0 2.94px;transform:scaleX(1.350)">i</b></i><i style="width:12px"><b style="margin:0 0.50px 0 0.50px;transform:scaleX(0.993)">n</b></i><i style="width:12px"><b style="-webkit-text-stroke:0.15px currentColor;margin:0 2.94px 0 2.94px;transform:scaleX(1.350)">i</b></i><i style="width:12px"><b style="margin:0 0.50px 0 0.50px;transform:scaleX(0.993)">n</b></i><i style="width:12px"><b style="margin:0 0.50px 0 0.50px;transform:scaleX(0.993)">g</b></i><i style="width:12px"></i><i style="width:12px"><b style="margin:0 -0.12px 0 -0.12px;transform:scaleX(0.892)">S</b></i><i style="width:12px"><b style="-webkit-text-stroke:0.15px currentColor;margin:0 2.94px 0 2.94px;transform:scaleX(1.350)">t</b></i><i style="width:12px"><b style="-webkit-text-stroke:0.15px currentColor;margin:0 1.12px 0 1.12px;transform:scaleX(1.118)">e</b></i><i style="width:12px"><b style="-webkit-text-stroke:0.15px currentColor;margin:0 1.12px 0 1.12px;transform:scaleX(1.118)">e</b></i><i style="width:12px"><b style="-webkit-text-stroke:0.15px currentColor;margin:0 2.94px 0 2.94px;transform:scaleX(1.350)">l</b></i></span></div>
<div class="t n" style="left:754.9px;top:238.9px;width:151px;height:34px;line-height:34px;color:#000;"><span><i style="width:11px"><b style="margin:0 -0.25px 0 -0.25px;transform:scaleX(0.870)">9</b></i><i style="width:11px"><b style="margin:0 -0.25px 0 -0.25px;transform:scaleX(0.870)">0</b></i><i style="width:11px"><b style="margin:0 -0.99px 0 -0.99px;transform:scaleX(0.772)">+</b></i></span></div>
<div class="t n" style="left:905.9px;top:238.9px;width:217px;height:34px;line-height:34px;color:#5a79bb;"><span><i style="width:11px"><u style="width:10px;height:1px;vertical-align:6.7px"></u></i></span></div>
<div class="t n" style="left:1122.9px;top:238.9px;width:140px;height:34px;line-height:34px;color:#000;"><span><i style="width:11px"><b style="margin:0 -0.25px 0 -0.25px;transform:scaleX(0.870)">3</b></i><i style="width:11px"><b style="margin:0 -0.25px 0 -0.25px;transform:scaleX(0.870)">0</b></i><i style="width:11px"><b style="margin:0 -0.99px 0 -0.99px;transform:scaleX(0.772)">+</b></i></span></div>
<div class="t l" style="left:1262.5px;top:238.0px;width:139px;height:34px;line-height:34px;color:#000;"><span><i style="width:12px"><b style="font-weight:bold;-webkit-text-stroke:0.03px currentColor;margin:0 -1.94px 0 -1.94px;transform:scaleX(0.687)">D</b></i><i style="width:12px"><b style="-webkit-text-stroke:0.15px currentColor;margin:0 1.12px 0 1.12px;transform:scaleX(1.118)">a</b></i><i style="width:12px"></i><i style="width:12px"><b style="margin:0 -0.12px 0 -0.12px;transform:scaleX(0.892)">S</b></i><i style="width:12px"><b style="-webkit-text-stroke:0.15px currentColor;margin:0 2.94px 0 2.94px;transform:scaleX(1.350)">t</b></i><i style="width:12px"><b style="-webkit-text-stroke:0.15px currentColor;margin:0 1.12px 0 1.12px;transform:scaleX(1.118)">e</b></i><i style="width:12px"><b style="-webkit-text-stroke:0.15px currentColor;margin:0 1.12px 0 1.12px;transform:scaleX(1.118)">e</b></i><i style="width:12px"><b style="-webkit-text-stroke:0.15px currentColor;margin:0 2.94px 0 2.94px;transform:scaleX(1.350)">l</b></i></span></div>
<div class="t n" style="left:1401.9px;top:238.9px;width:281px;height:34px;line-height:34px;color:#6473b4;"><span><i style="width:11px"><b style="margin:0 -0.25px 0 -0.25px;transform:scaleX(0.870)">4</b></i><i style="width:11px"><b style="margin:0 -0.25px 0 -0.25px;transform:scaleX(0.870)">2</b></i><i style="width:11px"><b style="margin:0 -0.25px 0 -0.25px;transform:scaleX(0.870)">0</b></i></span></div>
<div class="t l" style="left:2.5px;top:272.0px;width:289px;height:30px;line-height:30px;color:#000;"><span><i style="width:12px"><b style="font-weight:bold;-webkit-text-stroke:0.12px currentColor;margin:0 -2.56px 0 -2.56px;transform:scaleX(0.638)">G</b></i><i style="width:12px"><b style="margin:0 0.50px 0 0.50px;transform:scaleX(0.993)">u</b></i><i style="width:12px"><b style="-webkit-text-stroke:0.15px currentColor;margin:0 1.12px 0 1.12px;transform:scaleX(1.118)">a</b></i><i style="width:12px"><b style="margin:0 0.50px 0 0.50px;transform:scaleX(0.993)">n</b></i><i style="width:12px"><b style="-webkit-text-stroke:0.15px currentColor;margin:0 1.12px 0 1.12px;transform:scaleX(1.118)">z</b></i><i style="width:12px"><b style="margin:0 0.50px 0 0.50px;transform:scaleX(0.993)">h</b></i><i style="width:12px"><b style="margin:0 0.50px 0 0.50px;transform:scaleX(0.993)">o</b></i><i style="width:12px"><b style="margin:0 0.50px 0 0.50px;transform:scaleX(0.993)">u</b></i></span></div>
<div class="t n" style="left:291.9px;top:272.9px;width:175px;height:30px;line-height:30px;color:#5a79bb;"><span><i style="width:11px"><b style="margin:0 -0.25px 0 -0.25px;transform:scaleX(0.870)">5</b></i><i style="width:11px"><b style="margin:0 -0.25px 0 -0.25px;transform:scaleX(0.870)">4</b></i><i style="width:11px"><b style="margin:0 -0.25px 0 -0.25px;transform:scaleX(0.870)">0</b></i><i style="width:11px"><b style="margin:0 -0.25px 0 -0.25px;transform:scaleX(0.870)">0</b></i></span></div>
<div class="t n" style="left:466.9px;top:272.9px;width:142px;height:30px;line-height:30px;color:#000;"><span><i style="width:11px"><u style="width:10px;height:1px;vertical-align:6.7px"></u></i><i style="width:11px"><b style="margin:0 -0.25px 0 -0.25px;transform:scaleX(0.870)">2</b></i><i style="width:11px"><b style="margin:0 -0.25px 0 -0.25px;transform:scaleX(0.870)">0</b></i></span></div>
<div class="t l" style="left:608.5px;top:272.0px;width:146px;height:30px;line-height:30px;color:#000;"><span><i style="width:12px"><b style="font-weight:bold;-webkit-text-stroke:0.12px currentColor;margin:0 -2.56px 0 -2.56px;transform:scaleX(0.638)">H</b></i><i style="width:12px"><b style="margin:0 0.50px 0 0.50px;transform:scaleX(0.993)">u</b></i><i style="width:12px"><b style="-webkit-text-stroke:0.15px currentColor;margin:0 1.12px 0 1.12px;transform:scaleX(1.118)">a</b></i><i style="width:12px"><b style="-webkit-text-stroke:0.15px currentColor;margin:0 2.94px 0 2.94px;transform:scaleX(1.350)">l</b></i><i style="width:12px"><b style="-webkit-text-stroke:0.15px currentColor;margin:0 2.94px 0 2.94px;transform:scaleX(1.350)">i</b></i><i style="width:12px"><b style="margin:0 0.50px 0 0.50px;transform:scaleX(0.993)">n</b></i><i style="width:12px"><b style="margin:0 0.50px 0 0.50px;transform:scaleX(0.993)">g</b></i><i style="width:12px"></i><i style="width:12px"><b style="margin:0 -0.12px 0 -0.12px;transform:scaleX(0.892)">S</b></i><i style="width:12px"><b style="-webkit-text-stroke:0.15px currentColor;margin:0 2.94px 0 2.94px;transform:scaleX(1.350)">t</b></i><i style="width:12px"><b style="-webkit-text-stroke:0.15px currentColor;margin:0 1.12px 0 1.12px;transform:scaleX(1.118)">e</b></i><i style="width:12px"><b style="-webkit-text-stroke:0.15px currentColor;margin:0 1.12px 0 1.12px;transform:scaleX(1.118)">e</b></i><i style="width:12px"><b style="-webkit-text-stroke:0.15px currentColor;margin:0 2.94px 0 2.94px;transform:scaleX(1.350)">l</b></i></span></div>
<div class="t n" style="left:754.9px;top:272.9px;width:151px;height:30px;line-height:30px;color:#000;"><span><i style="width:11px"><b style="margin:0 -0.25px 0 -0.25px;transform:scaleX(0.870)">4</b></i><i style="width:11px"><b style="margin:0 -0.25px 0 -0.25px;transform:scaleX(0.870)">0</b></i><i style="width:11px"><b style="margin:0 -0.99px 0 -0.99px;transform:scaleX(0.772)">+</b></i></span></div>
<div class="t n" style="left:905.9px;top:272.9px;width:217px;height:30px;line-height:30px;color:#5a79bb;"><span><i style="width:11px"><u style="width:10px;height:1px;vertical-align:6.7px"></u></i></span></div>
<div class="t n" style="left:1122.9px;top:272.9px;width:140px;height:30px;line-height:30px;color:#000;"><span><i style="width:11px"><u style="width:10px;height:1px;vertical-align:6.7px"></u></i><i style="width:11px"><b style="margin:0 -0.25px 0 -0.25px;transform:scaleX(0.870)">4</b></i><i style="width:11px"><b style="margin:0 -0.25px 0 -0.25px;transform:scaleX(0.870)">0</b></i></span></div>
<div class="t l" style="left:1262.5px;top:272.0px;width:139px;height:30px;line-height:30px;color:#000;"><span><i style="width:12px"><b style="margin:0 -0.12px 0 -0.12px;transform:scaleX(0.892)">S</b></i><i style="width:12px"><b style="margin:0 0.50px 0 0.50px;transform:scaleX(0.993)">h</b></i><i style="width:12px"><b style="-webkit-text-stroke:0.15px currentColor;margin:0 1.12px 0 1.12px;transform:scaleX(1.118)">a</b></i><i style="width:12px"><b style="margin:0 0.50px 0 0.50px;transform:scaleX(0.993)">o</b></i><i style="width:12px"></i><i style="width:12px"><b style="margin:0 -0.12px 0 -0.12px;transform:scaleX(0.892)">S</b></i><i style="width:12px"><b style="-webkit-text-stroke:0.15px currentColor;margin:0 2.94px 0 2.94px;transform:scaleX(1.350)">t</b></i><i style="width:12px"><b style="-webkit-text-stroke:0.15px currentColor;margin:0 1.12px 0 1.12px;transform:scaleX(1.118)">e</b></i><i style="width:12px"><b style="-webkit-text-stroke:0.15px currentColor;margin:0 1.12px 0 1.12px;transform:scaleX(1.118)">e</b></i><i style="width:12px"><b style="-webkit-text-stroke:0.15px currentColor;margin:0 2.94px 0 2.94px;transform:scaleX(1.350)">l</b></i></span></div>
<div class="t n" style="left:1401.9px;top:272.9px;width:281px;height:30px;line-height:30px;color:#6473b4;"><span><i style="width:11px"><b style="margin:0 -0.25px 0 -0.25px;transform:scaleX(0.870)">4</b></i><i style="width:11px"><b style="margin:0 -0.25px 0 -0.25px;transform:scaleX(0.870)">3</b></i><i style="width:11px"><b style="margin:0 -0.25px 0 -0.25px;transform:scaleX(0.870)">0</b></i></span></div>
<div class="t l" style="left:2.5px;top:302.0px;width:289px;height:36px;line-height:36px;color:#000;"><span><i style="width:12px"><b style="margin:0 -0.12px 0 -0.12px;transform:scaleX(0.892)">S</b></i><i style="width:12px"><b style="margin:0 0.50px 0 0.50px;transform:scaleX(0.993)">h</b></i><i style="width:12px"><b style="-webkit-text-stroke:0.15px currentColor;margin:0 1.12px 0 1.12px;transform:scaleX(1.118)">e</b></i><i style="width:12px"><b style="margin:0 0.50px 0 0.50px;transform:scaleX(0.993)">n</b></i><i style="width:12px"><b style="margin:0 0.50px 0 0.50px;transform:scaleX(0.993)">y</b></i><i style="width:12px"><b style="-webkit-text-stroke:0.15px currentColor;margin:0 1.12px 0 1.12px;transform:scaleX(1.118)">a</b></i><i style="width:12px"><b style="margin:0 0.50px 0 0.50px;transform:scaleX(0.993)">n</b></i><i style="width:12px"><b style="margin:0 0.50px 0 0.50px;transform:scaleX(0.993)">g</b></i></span></div>
<div class="t n" style="left:291.9px;top:302.9px;width:175px;height:36px;line-height:36px;color:#5a79bb;"><span><i style="width:11px"><b style="margin:0 -0.25px 0 -0.25px;transform:scaleX(0.870)">5</b></i><i style="width:11px"><b style="margin:0 -0.25px 0 -0.25px;transform:scaleX(0.870)">3</b></i><i style="width:11px"><b style="margin:0 -0.25px 0 -0.25px;transform:scaleX(0.870)">5</b></i><i style="width:11px"><b style="margin:0 -0.25px 0 -0.25px;transform:scaleX(0.870)">0</b></i></span></div>
<div class="t n" style="left:466.9px;top:302.9px;width:142px;height:36px;line-height:36px;color:#000;"><span><i style="width:11px"><u style="width:10px;height:1px;vertical-align:6.7px"></u></i></span></div>
<div class="t l" style="left:608.5px;top:302.0px;width:146px;height:36px;line-height:36px;color:#000;"><span><i style="width:12px"><b style="font-weight:bold;-webkit-text-stroke:0.00px currentColor;margin:0 -1.34px 0 -1.34px;transform:scaleX(0.744)">B</b></i><i style="width:12px"><b style="-webkit-text-stroke:0.15px currentColor;margin:0 1.12px 0 1.12px;transform:scaleX(1.118)">e</b></i><i style="width:12px"><b style="margin:0 0.50px 0 0.50px;transform:scaleX(0.993)">n</b></i><i style="width:12px"></i><i style="width:12px"><b style="margin:0 -0.12px 0 -0.12px;transform:scaleX(0.892)">S</b></i><i style="width:12px"><b style="-webkit-text-stroke:0.15px currentColor;margin:0 2.94px 0 2.94px;transform:scaleX(1.350)">t</b></i><i style="width:12px"><b style="-webkit-text-stroke:0.15px currentColor;margin:0 1.12px 0 1.12px;transform:scaleX(1.118)">e</b></i><i style="width:12px"><b style="-webkit-text-stroke:0.15px currentColor;margin:0 1.12px 0 1.12px;transform:scaleX(1.118)">e</b></i><i style="width:12px"><b style="-webkit-text-stroke:0.15px currentColor;margin:0 2.94px 0 2.94px;transform:scaleX(1.350)">l</b></i></span></div>
<div class="t n" style="left:754.9px;top:302.9px;width:151px;height:36px;line-height:36px;color:#000;"><span><i style="width:11px"><u style="width:10px;height:1px;vertical-align:6.7px"></u></i><i style="width:11px"><b style="margin:0 -0.25px 0 -0.25px;transform:scaleX(0.870)">1</b></i><i style="width:11px"><b style="margin:0 -0.25px 0 -0.25px;transform:scaleX(0.870)">0</b></i></span></div>
<div class="t n" style="left:905.9px;top:302.9px;width:217px;height:36px;line-height:36px;color:#5a79bb;"><span><i style="width:11px"><u style="width:10px;height:1px;vertical-align:6.7px"></u></i></span></div>
<div class="t n" style="left:1122.9px;top:302.9px;width:140px;height:36px;line-height:36px;color:#000;"><span><i style="width:11px"><u style="width:10px;height:1px;vertical-align:6.7px"></u></i><i style="width:11px"><b style="margin:0 -0.25px 0 -0.25px;transform:scaleX(0.870)">1</b></i><i style="width:11px"><b style="margin:0 -0.25px 0 -0.25px;transform:scaleX(0.870)">0</b></i></span></div>
<div class="t l" style="left:1262.5px;top:302.0px;width:139px;height:36px;line-height:36px;color:#000;"><span><i style="width:12px"><b style="margin:0 -0.12px 0 -0.12px;transform:scaleX(0.892)">F</b></i><i style="width:12px"><b style="margin:0 0.50px 0 0.50px;transform:scaleX(0.993)">u</b></i><i style="width:12px"></i><i style="width:12px"><b style="margin:0 -0.12px 0 -0.12px;transform:scaleX(0.892)">S</b></i><i style="width:12px"><b style="-webkit-text-stroke:0.15px currentColor;margin:0 2.94px 0 2.94px;transform:scaleX(1.350)">t</b></i><i style="width:12px"><b style="-webkit-text-stroke:0.15px currentColor;margin:0 1.12px 0 1.12px;transform:scaleX(1.118)">e</b></i><i style="width:12px"><b style="-webkit-text-stroke:0.15px currentColor;margin:0 1.12px 0 1.12px;transform:scaleX(1.118)">e</b></i><i style="width:12px"><b style="-webkit-text-stroke:0.15px currentColor;margin:0 2.94px 0 2.94px;transform:scaleX(1.350)">l</b></i></span></div>
<div class="t n" style="left:1401.9px;top:302.9px;width:281px;height:36px;line-height:36px;color:#6473b4;"><span><i style="width:11px"><b style="margin:0 -0.25px 0 -0.25px;transform:scaleX(0.870)">5</b></i><i style="width:11px"><b style="margin:0 -0.25px 0 -0.25px;transform:scaleX(0.870)">1</b></i><i style="width:11px"><b style="margin:0 -0.25px 0 -0.25px;transform:scaleX(0.870)">0</b></i></span></div>
<div class="t h" style="left:3px;top:338.4px;width:289px;height:66px;line-height:66px;color:#fff;"><span><i style="width:13px"><b style="font-weight:bold;-webkit-text-stroke:0.03px currentColor;margin:0 -2.17px 0 -2.17px;transform:scaleX(0.683)">A</b></i><i style="width:13px"><b style="margin:0 0.50px 0 0.50px;transform:scaleX(0.986)">v</b></i><i style="width:13px"><b style="-webkit-text-stroke:0.15px currentColor;margin:0 1.17px 0 1.17px;transform:scaleX(1.111)">e</b></i><i style="width:13px"><b style="-webkit-text-stroke:0.15px currentColor;margin:0 2.50px 0 2.50px;transform:scaleX(1.350)">r</b></i><i style="width:13px"><b style="-webkit-text-stroke:0.15px currentColor;margin:0 1.17px 0 1.17px;transform:scaleX(1.111)">a</b></i><i style="width:13px"><b style="margin:0 0.50px 0 0.50px;transform:scaleX(0.986)">g</b></i><i style="width:13px"><b style="-webkit-text-stroke:0.15px currentColor;margin:0 1.17px 0 1.17px;transform:scaleX(1.111)">e</b></i><i style="width:13px"></i><i style="width:13px"><b style="margin:0 -0.17px 0 -0.17px;transform:scaleX(0.886)">P</b></i><i style="width:13px"><b style="-webkit-text-stroke:0.15px currentColor;margin:0 2.50px 0 2.50px;transform:scaleX(1.350)">r</b></i><i style="width:13px"><b style="-webkit-text-stroke:0.15px currentColor;margin:0 3.17px 0 3.17px;transform:scaleX(1.350)">i</b></i><i style="width:13px"><b style="-webkit-text-stroke:0.15px currentColor;margin:0 1.17px 0 1.17px;transform:scaleX(1.111)">c</b></i><i style="width:13px"><b style="-webkit-text-stroke:0.15px currentColor;margin:0 1.17px 0 1.17px;transform:scaleX(1.111)">e</b></i><i style="width:13px"><b style="-webkit-text-stroke:0.3px currentColor;margin:0 0.60px 0 4.41px;transform:scaleX(1.150)">(</b></i><i style="width:13px"><b style="font-weight:bold;-webkit-text-stroke:0.03px currentColor;margin:0 -2.17px 0 -2.17px;transform:scaleX(0.683)">R</b></i><i style="width:13px"><b style="font-weight:bold;-webkit-text-stroke:0.36px currentColor;margin:0 -4.83px 0 -4.83px;transform:scaleX(0.522)">M</b></i><i style="width:13px"><b style="font-weight:bold;-webkit-text-stroke:0.00px currentColor;margin:0 -1.50px 0 -1.50px;transform:scaleX(0.739)">B</b></i><i style="width:13px"><svg width="12" height="20" viewBox="0 0 12 20" style="vertical-align:-1.9px"><path d="M0.8 19.6L11.2 0.4" stroke="currentColor" stroke-width="1.9" fill="none"/></svg></i><i style="width:13px"><b style="-webkit-text-stroke:0.15px currentColor;margin:0 3.17px 0 3.17px;transform:scaleX(1.350)">t</b></i><i style="width:13px"><b style="margin:0 0.50px 0 0.50px;transform:scaleX(0.986)">o</b></i><i style="width:13px"><b style="margin:0 0.50px 0 0.50px;transform:scaleX(0.986)">n</b></i><i style="width:13px"><b style="-webkit-text-stroke:0.3px currentColor;margin:0 4.41px 0 0.60px;transform:scaleX(1.150)">)</b></i></span></div>
<div class="t h" style="left:292px;top:338.4px;width:175px;height:66px;line-height:66px;color:#fff;"><span><i style="width:13px"><b style="margin:0 0.50px 0 0.50px;transform:scaleX(0.986)">4</b></i><i style="width:13px"><b style="margin:0 0.50px 0 0.50px;transform:scaleX(0.986)">5</b></i><i style="width:13px"><b style="margin:0 0.50px 0 0.50px;transform:scaleX(0.986)">#</b></i></span></div>
<div class="t h" style="left:467px;top:338.4px;width:142px;height:66px;line-height:66px;color:#fff;"><span><i style="width:13px"><b style="margin:0 0.50px 0 0.50px;transform:scaleX(0.986)">4</b></i><i style="width:13px"><b style="margin:0 0.50px 0 0.50px;transform:scaleX(0.986)">0</b></i><i style="width:13px"><b style="font-weight:bold;-webkit-text-stroke:0.03px currentColor;margin:0 -2.17px 0 -2.17px;transform:scaleX(0.683)">C</b></i><i style="width:13px"><b style="-webkit-text-stroke:0.15px currentColor;margin:0 2.50px 0 2.50px;transform:scaleX(1.350)">r</b></i></span></div>
<div class="t h" style="left:609px;top:338.4px;width:146px;height:66px;line-height:66px;color:#fff;"><span><i style="width:13px"><b style="margin:0 0.50px 0 0.50px;transform:scaleX(0.986)">2</b></i><i style="width:13px"><b style="margin:0 0.50px 0 0.50px;transform:scaleX(0.986)">0</b></i><i style="width:13px"><b style="font-weight:bold;-webkit-text-stroke:0.03px currentColor;margin:0 -2.17px 0 -2.17px;transform:scaleX(0.683)">C</b></i><i style="width:13px"><b style="-webkit-text-stroke:0.15px currentColor;margin:0 2.50px 0 2.50px;transform:scaleX(1.350)">r</b></i><i style="width:13px"><b style="font-weight:bold;-webkit-text-stroke:0.36px currentColor;margin:0 -4.83px 0 -4.83px;transform:scaleX(0.522)">M</b></i><i style="width:13px"><b style="margin:0 0.50px 0 0.50px;transform:scaleX(0.986)">n</b></i><i style="width:13px"><b style="margin:0 -0.83px 0 -0.83px;transform:scaleX(0.807)">T</b></i><i style="width:13px"><b style="-webkit-text-stroke:0.15px currentColor;margin:0 3.17px 0 3.17px;transform:scaleX(1.350)">i</b></i></span></div>
<div class="t h" style="left:755px;top:338.4px;width:151px;height:66px;line-height:66px;color:#fff;"><span><i style="width:13px"><b style="margin:0 0.50px 0 0.50px;transform:scaleX(0.986)">3</b></i><i style="width:13px"><b style="margin:0 0.50px 0 0.50px;transform:scaleX(0.986)">5</b></i><i style="width:13px"><svg width="12" height="20" viewBox="0 0 12 20" style="vertical-align:-1.9px"><path d="M0.8 19.6L11.2 0.4" stroke="currentColor" stroke-width="1.9" fill="none"/></svg></i><i style="width:13px"><b style="margin:0 0.50px 0 0.50px;transform:scaleX(0.986)">4</b></i><i style="width:13px"><b style="margin:0 0.50px 0 0.50px;transform:scaleX(0.986)">2</b></i><i style="width:13px"><b style="font-weight:bold;-webkit-text-stroke:0.03px currentColor;margin:0 -2.17px 0 -2.17px;transform:scaleX(0.683)">C</b></i><i style="width:13px"><b style="-webkit-text-stroke:0.15px currentColor;margin:0 2.50px 0 2.50px;transform:scaleX(1.350)">r</b></i><i style="width:13px"><b style="font-weight:bold;-webkit-text-stroke:0.36px currentColor;margin:0 -4.83px 0 -4.83px;transform:scaleX(0.522)">M</b></i><i style="width:13px"><b style="margin:0 0.50px 0 0.50px;transform:scaleX(0.986)">o</b></i></span></div>
<div class="t h" style="left:906px;top:338.4px;width:217px;height:66px;line-height:66px;color:#fff;"><span><i style="width:13px"><b style="font-weight:bold;-webkit-text-stroke:0.13px currentColor;margin:0 -2.83px 0 -2.83px;transform:scaleX(0.634)">Q</b></i><i style="width:13px"><b style="margin:0 0.50px 0 0.50px;transform:scaleX(0.986)">2</b></i><i style="width:13px"><b style="margin:0 0.50px 0 0.50px;transform:scaleX(0.986)">3</b></i><i style="width:13px"><b style="margin:0 0.50px 0 0.50px;transform:scaleX(0.986)">5</b></i></span></div>
<div class="t h" style="left:1123px;top:338.4px;width:140px;height:66px;line-height:66px;color:#fff;"><span><i style="width:13px"><b style="margin:0 0.50px 0 0.50px;transform:scaleX(0.986)">2</b></i><i style="width:13px"><b style="margin:0 0.50px 0 0.50px;transform:scaleX(0.986)">0</b></i><i style="width:13px"><b style="margin:0 0.50px 0 0.50px;transform:scaleX(0.986)">#</b></i><i style="width:13px"><b style="margin:0 -0.83px 0 -0.83px;transform:scaleX(0.807)">T</b></i><i style="width:13px"><b style="margin:0 0.50px 0 0.50px;transform:scaleX(0.986)">u</b></i><i style="width:13px"><b style="margin:0 0.50px 0 0.50px;transform:scaleX(0.986)">b</b></i><i style="width:13px"><b style="-webkit-text-stroke:0.15px currentColor;margin:0 1.17px 0 1.17px;transform:scaleX(1.111)">e</b></i></span></div>
<div class="t l" style="left:2.5px;top:404.0px;width:289px;height:36px;line-height:36px;color:#000;"><span><i style="width:12px"><b style="margin:0 -0.72px 0 -0.72px;transform:scaleX(0.813)">T</b></i><i style="width:12px"><b style="margin:0 0.50px 0 0.50px;transform:scaleX(0.993)">o</b></i><i style="width:12px"><b style="margin:0 0.50px 0 0.50px;transform:scaleX(0.993)">d</b></i><i style="width:12px"><b style="-webkit-text-stroke:0.15px currentColor;margin:0 1.12px 0 1.12px;transform:scaleX(1.118)">a</b></i><i style="width:12px"><b style="margin:0 0.50px 0 0.50px;transform:scaleX(0.993)">y</b></i></span></div>
<div class="t n" style="left:291.9px;top:404.9px;width:175px;height:36px;line-height:36px;color:#e02b38;"><span><i style="width:11px"><b style="margin:0 -0.25px 0 -0.25px;transform:scaleX(0.870)">5</b></i><i style="width:11px"><b style="margin:0 -0.25px 0 -0.25px;transform:scaleX(0.870)">4</b></i><i style="width:11px"><b style="margin:0 -0.25px 0 -0.25px;transform:scaleX(0.870)">5</b></i><i style="width:11px"><b style="margin:0 -0.25px 0 -0.25px;transform:scaleX(0.870)">5</b></i></span></div>
<div class="t n" style="left:466.9px;top:404.9px;width:142px;height:36px;line-height:36px;color:#e02b38;"><span><i style="width:11px"><b style="margin:0 -0.25px 0 -0.25px;transform:scaleX(0.870)">5</b></i><i style="width:11px"><b style="margin:0 -0.25px 0 -0.25px;transform:scaleX(0.870)">6</b></i><i style="width:11px"><b style="margin:0 -0.25px 0 -0.25px;transform:scaleX(0.870)">9</b></i><i style="width:11px"><b style="margin:0 -0.25px 0 -0.25px;transform:scaleX(0.870)">7</b></i></span></div>
<div class="t n" style="left:608.9px;top:404.9px;width:146px;height:36px;line-height:36px;color:#e02b38;"><span><i style="width:11px"><b style="margin:0 -0.25px 0 -0.25px;transform:scaleX(0.870)">5</b></i><i style="width:11px"><b style="margin:0 -0.25px 0 -0.25px;transform:scaleX(0.870)">8</b></i><i style="width:11px"><b style="margin:0 -0.25px 0 -0.25px;transform:scaleX(0.870)">6</b></i><i style="width:11px"><b style="margin:0 -0.25px 0 -0.25px;transform:scaleX(0.870)">7</b></i></span></div>
<div class="t n" style="left:754.9px;top:404.9px;width:151px;height:36px;line-height:36px;color:#e02b38;"><span><i style="width:11px"><b style="margin:0 -0.25px 0 -0.25px;transform:scaleX(0.870)">6</b></i><i style="width:11px"><b style="margin:0 -0.25px 0 -0.25px;transform:scaleX(0.870)">1</b></i><i style="width:11px"><b style="margin:0 -0.25px 0 -0.25px;transform:scaleX(0.870)">5</b></i><i style="width:11px"><b style="margin:0 -0.25px 0 -0.25px;transform:scaleX(0.870)">9</b></i></span></div>
<div class="t n" style="left:905.9px;top:404.9px;width:217px;height:36px;line-height:36px;color:#e02b38;"><span><i style="width:11px"><b style="margin:0 -0.25px 0 -0.25px;transform:scaleX(0.870)">5</b></i><i style="width:11px"><b style="margin:0 -0.25px 0 -0.25px;transform:scaleX(0.870)">1</b></i><i style="width:11px"><b style="margin:0 -0.25px 0 -0.25px;transform:scaleX(0.870)">2</b></i><i style="width:11px"><b style="margin:0 -0.25px 0 -0.25px;transform:scaleX(0.870)">2</b></i></span></div>
<div class="t n" style="left:1122.9px;top:404.9px;width:140px;height:36px;line-height:36px;color:#e02b38;"><span><i style="width:11px"><b style="margin:0 -0.25px 0 -0.25px;transform:scaleX(0.870)">5</b></i><i style="width:11px"><b style="margin:0 -0.25px 0 -0.25px;transform:scaleX(0.870)">1</b></i><i style="width:11px"><b style="margin:0 -0.25px 0 -0.25px;transform:scaleX(0.870)">5</b></i><i style="width:11px"><b style="margin:0 -0.25px 0 -0.25px;transform:scaleX(0.870)">7</b></i></span></div>
<div class="t l" style="left:2.5px;top:440.0px;width:289px;height:40px;line-height:40px;color:#000;"><span><i style="width:12px"><b style="font-weight:bold;-webkit-text-stroke:0.03px currentColor;margin:0 -1.94px 0 -1.94px;transform:scaleX(0.687)">Y</b></i><i style="width:12px"><b style="-webkit-text-stroke:0.15px currentColor;margin:0 1.12px 0 1.12px;transform:scaleX(1.118)">e</b></i><i style="width:12px"><b style="-webkit-text-stroke:0.15px currentColor;margin:0 1.72px 0 1.72px;transform:scaleX(1.275)">s</b></i><i style="width:12px"><b style="-webkit-text-stroke:0.15px currentColor;margin:0 2.94px 0 2.94px;transform:scaleX(1.350)">t</b></i><i style="width:12px"><b style="-webkit-text-stroke:0.15px currentColor;margin:0 1.12px 0 1.12px;transform:scaleX(1.118)">e</b></i><i style="width:12px"><b style="-webkit-text-stroke:0.15px currentColor;margin:0 2.34px 0 2.34px;transform:scaleX(1.350)">r</b></i><i style="width:12px"><b style="margin:0 0.50px 0 0.50px;transform:scaleX(0.993)">d</b></i><i style="width:12px"><b style="-webkit-text-stroke:0.15px currentColor;margin:0 1.12px 0 1.12px;transform:scaleX(1.118)">a</b></i><i style="width:12px"><b style="margin:0 0.50px 0 0.50px;transform:scaleX(0.993)">y</b></i></span></div>
<div class="t n" style="left:291.9px;top:440.9px;width:175px;height:40px;line-height:40px;color:#5a79bb;"><span><i style="width:11px"><b style="margin:0 -0.25px 0 -0.25px;transform:scaleX(0.870)">5</b></i><i style="width:11px"><b style="margin:0 -0.25px 0 -0.25px;transform:scaleX(0.870)">4</b></i><i style="width:11px"><b style="margin:0 -0.25px 0 -0.25px;transform:scaleX(0.870)">5</b></i><i style="width:11px"><b style="margin:0 -0.25px 0 -0.25px;transform:scaleX(0.870)">9</b></i></span></div>
<div class="t n" style="left:466.9px;top:440.9px;width:142px;height:40px;line-height:40px;color:#5a79bb;"><span><i style="width:11px"><b style="margin:0 -0.25px 0 -0.25px;transform:scaleX(0.870)">5</b></i><i style="width:11px"><b style="margin:0 -0.25px 0 -0.25px;transform:scaleX(0.870)">6</b></i><i style="width:11px"><b style="margin:0 -0.25px 0 -0.25px;transform:scaleX(0.870)">9</b></i><i style="width:11px"><b style="margin:0 -0.25px 0 -0.25px;transform:scaleX(0.870)">9</b></i></span></div>
<div class="t n" style="left:608.9px;top:440.9px;width:146px;height:40px;line-height:40px;color:#5a79bb;"><span><i style="width:11px"><b style="margin:0 -0.25px 0 -0.25px;transform:scaleX(0.870)">5</b></i><i style="width:11px"><b style="margin:0 -0.25px 0 -0.25px;transform:scaleX(0.870)">8</b></i><i style="width:11px"><b style="margin:0 -0.25px 0 -0.25px;transform:scaleX(0.870)">6</b></i><i style="width:11px"><b style="margin:0 -0.25px 0 -0.25px;transform:scaleX(0.870)">7</b></i></span></div>
<div class="t n" style="left:754.9px;top:440.9px;width:151px;height:40px;line-height:40px;color:#5a79bb;"><span><i style="width:11px"><b style="margin:0 -0.25px 0 -0.25px;transform:scaleX(0.870)">6</b></i><i style="width:11px"><b style="margin:0 -0.25px 0 -0.25px;transform:scaleX(0.870)">1</b></i><i style="width:11px"><b style="margin:0 -0.25px 0 -0.25px;transform:scaleX(0.870)">6</b></i><i style="width:11px"><b style="margin:0 -0.25px 0 -0.25px;transform:scaleX(0.870)">3</b></i></span></div>
<div class="t n" style="left:905.9px;top:440.9px;width:217px;height:40px;line-height:40px;color:#5a79bb;"><span><i style="width:11px"><b style="margin:0 -0.25px 0 -0.25px;transform:scaleX(0.870)">5</b></i><i style="width:11px"><b style="margin:0 -0.25px 0 -0.25px;transform:scaleX(0.870)">1</b></i><i style="width:11px"><b style="margin:0 -0.25px 0 -0.25px;transform:scaleX(0.870)">2</b></i><i style="width:11px"><b style="margin:0 -0.25px 0 -0.25px;transform:scaleX(0.870)">7</b></i></span></div>
<div class="t n" style="left:1122.9px;top:440.9px;width:140px;height:40px;line-height:40px;color:#5a79bb;"><span><i style="width:11px"><b style="margin:0 -0.25px 0 -0.25px;transform:scaleX(0.870)">5</b></i><i style="width:11px"><b style="margin:0 -0.25px 0 -0.25px;transform:scaleX(0.870)">1</b></i><i style="width:11px"><b style="margin:0 -0.25px 0 -0.25px;transform:scaleX(0.870)">7</b></i><i style="width:11px"><b style="margin:0 -0.25px 0 -0.25px;transform:scaleX(0.870)">6</b></i></span></div>
<div class="t l" style="left:2.5px;top:480.0px;width:289px;height:36px;line-height:36px;color:#000;"><span><i style="width:12px"><b style="font-weight:bold;-webkit-text-stroke:0.03px currentColor;margin:0 -1.94px 0 -1.94px;transform:scaleX(0.687)">U</b></i><i style="width:12px"><b style="margin:0 -0.12px 0 -0.12px;transform:scaleX(0.892)">P</b></i><i style="width:12px"><svg width="11" height="18" viewBox="0 0 11 18" style="vertical-align:-1.8px"><path d="M0.8 17.6L10.2 0.4" stroke="currentColor" stroke-width="1.9" fill="none"/></svg></i><i style="width:12px"><b style="font-weight:bold;-webkit-text-stroke:0.03px currentColor;margin:0 -1.94px 0 -1.94px;transform:scaleX(0.687)">D</b></i><i style="width:12px"><b style="font-weight:bold;-webkit-text-stroke:0.12px currentColor;margin:0 -2.56px 0 -2.56px;transform:scaleX(0.638)">O</b></i><i style="width:12px"><b style="font-weight:bold;-webkit-text-stroke:0.41px currentColor;margin:0 -5.00px 0 -5.00px;transform:scaleX(0.496)">W</b></i><i style="width:12px"><b style="font-weight:bold;-webkit-text-stroke:0.03px currentColor;margin:0 -1.94px 0 -1.94px;transform:scaleX(0.687)">N</b></i></span></div>
<div class="t n" style="left:291.9px;top:480.9px;width:175px;height:36px;line-height:36px;color:#e02b38;"><span><i style="width:11px"><u style="width:10px;height:1px;vertical-align:6.7px"></u></i><i style="width:11px"><b style="margin:0 -0.25px 0 -0.25px;transform:scaleX(0.870)">4</b></i></span></div>
<div class="t n" style="left:466.9px;top:480.9px;width:142px;height:36px;line-height:36px;color:#e02b38;"><span><i style="width:11px"><u style="width:10px;height:1px;vertical-align:6.7px"></u></i><i style="width:11px"><b style="margin:0 -0.25px 0 -0.25px;transform:scaleX(0.870)">2</b></i></span></div>
<div class="t n" style="left:608.9px;top:480.9px;width:146px;height:36px;line-height:36px;color:#e02b38;"><span><i style="width:11px"><u style="width:10px;height:1px;vertical-align:6.7px"></u></i></span></div>
<div class="t n" style="left:754.9px;top:480.9px;width:151px;height:36px;line-height:36px;color:#e02b38;"><span><i style="width:11px"><u style="width:10px;height:1px;vertical-align:6.7px"></u></i><i style="width:11px"><b style="margin:0 -0.25px 0 -0.25px;transform:scaleX(0.870)">4</b></i></span></div>
<div class="t n" style="left:905.9px;top:480.9px;width:217px;height:36px;line-height:36px;color:#e02b38;"><span><i style="width:11px"><u style="width:10px;height:1px;vertical-align:6.7px"></u></i><i style="width:11px"><b style="margin:0 -0.25px 0 -0.25px;transform:scaleX(0.870)">5</b></i></span></div>
<div class="t n" style="left:1122.9px;top:480.9px;width:140px;height:36px;line-height:36px;color:#e02b38;"><span><i style="width:11px"><u style="width:10px;height:1px;vertical-align:6.7px"></u></i><i style="width:11px"><b style="margin:0 -0.25px 0 -0.25px;transform:scaleX(0.870)">1</b></i><i style="width:11px"><b style="margin:0 -0.25px 0 -0.25px;transform:scaleX(0.870)">9</b></i></span></div>
</body></html>
